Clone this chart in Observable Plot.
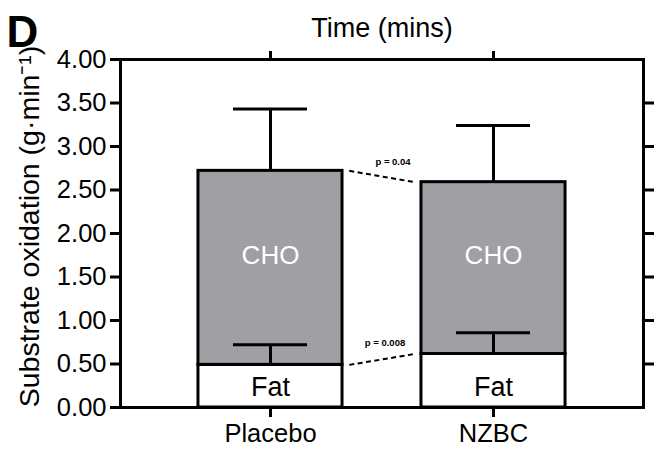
<!DOCTYPE html>
<html>
<head>
<meta charset="utf-8">
<script src="https://cdn.jsdelivr.net/npm/d3@7"></script>
<script src="https://cdn.jsdelivr.net/npm/@observablehq/plot@0.6"></script>
<style>
  html, body { margin: 0; padding: 0; background: white; }
  #chart { width: 654px; height: 450px; }
</style>
</head>
<body>
<div id="chart"></div>
<script>
// ---- data ----
const groups = ["Placebo", "NZBC"];
const fatMean = [0.49, 0.615];
const fatErr = [0.23, 0.245];
const choMean = [2.23, 1.975];
const totalErr = [0.71, 0.65];
const pTotal = "p = 0.04";
const pFat = "p = 0.008";
const yTicks = [0, 0.5, 1, 1.5, 2, 2.5, 3, 3.5, 4];
const yLabel = "Substrate oxidation (g\u00B7min\u207B\u00B9)";
const xTopLabel = "Time (mins)";
const panel = "D";

// ---- tables built from the arrays ----
const data = groups.map((g, i) => ({
  group: g, i,
  fat: fatMean[i],
  fatTop: fatMean[i] + fatErr[i],
  total: fatMean[i] + choMean[i],
  totalTop: fatMean[i] + choMean[i] + totalErr[i]
}));
const links = [
  {from: data[0].total, to: data[1].total, p: pTotal},
  {from: data[0].fat, to: data[1].fat, p: pFat}
];

const HALF = 0.323, CAP = 0.166, GAP = 0.03;
const choMid = d3.mean(data, d => (d.fat + d.total) / 2);
const font = "'Liberation Sans', Arial, Helvetica, sans-serif";

const chart = Plot.plot({
  width: 654,
  height: 450,
  marginLeft: 120,
  marginRight: 11,
  marginTop: 59,
  marginBottom: 43,
  x: {domain: [-0.6726, 1.6726]},
  y: {domain: [0, 4]},
  style: {fontFamily: font, background: "white", color: "black"},
  marks: [
    Plot.rect(data, {x1: d => d.i - HALF, x2: d => d.i + HALF, y1: 0, y2: "fat",
      fill: "white", stroke: "black", strokeWidth: 3}),
    Plot.rect(data, {x1: d => d.i - HALF, x2: d => d.i + HALF, y1: "fat", y2: "total",
      fill: "#a09fa4", stroke: "black", strokeWidth: 3}),
    // error bars
    Plot.ruleX(data, {x: "i", y1: "fat", y2: "fatTop", stroke: "black", strokeWidth: 3}),
    Plot.ruleY(data, {y: "fatTop", x1: d => d.i - CAP, x2: d => d.i + CAP, stroke: "black", strokeWidth: 3}),
    Plot.ruleX(data, {x: "i", y1: "total", y2: "totalTop", stroke: "black", strokeWidth: 3}),
    Plot.ruleY(data, {y: "totalTop", x1: d => d.i - CAP, x2: d => d.i + CAP, stroke: "black", strokeWidth: 3}),
    // bar labels
    Plot.text(data, {x: "i", y: choMid, text: () => "CHO", fill: "white", fontSize: 26, dy: -12}),
    Plot.text(data, {x: "i", y: 0, text: () => "Fat", fill: "black", fontSize: 27, dy: -20}),
    // dashed connectors
    Plot.link(links, {x1: HALF + GAP, x2: 1 - HALF - GAP, y1: "from", y2: "to",
      stroke: "black", strokeWidth: 2, strokeDasharray: "5,3.5"}),
    Plot.text([links[0]], {x: 0.5, y: d => (d.from + d.to) / 2, text: "p", dx: 11, dy: -15,
      fontSize: 9.5, fontWeight: "bold"}),
    Plot.text([links[1]], {x: 0.5, y: d => (d.from + d.to) / 2, text: "p", dx: 3, dy: -16,
      fontSize: 9.5, fontWeight: "bold"}),
    // frame + axes
    Plot.frame({stroke: "black", strokeWidth: 3}),
    Plot.axisY({anchor: "left", ticks: yTicks, tickFormat: d3.format(".2f"), tickSize: 10,
      tickPadding: 4, strokeWidth: 3, fontSize: 25.5, label: null}),
    Plot.axisY({anchor: "right", ticks: yTicks.slice(1, -1), tickFormat: () => "", tickSize: 10,
      strokeWidth: 3, label: null}),
    Plot.axisX({anchor: "bottom", ticks: [0, 1], tickFormat: i => groups[i], tickSize: 10,
      tickPadding: 6, strokeWidth: 3, fontSize: 25.5, label: null}),
    Plot.axisX({anchor: "top", ticks: [0, 1], tickFormat: () => "", tickSize: 9,
      strokeWidth: 3, label: null}),
    // titles
    Plot.text([xTopLabel], {frameAnchor: "top", text: d => d, dy: -42, fontSize: 27}),
    Plot.text([yLabel], {frameAnchor: "left", text: d => d, textAnchor: "middle", rotate: -90,
      dx: -91, dy: -7, fontSize: 28.5}),
    Plot.text([panel], {frameAnchor: "top-left", text: d => d, textAnchor: "middle", dx: -98, dy: -44,
      fontSize: 44, fontWeight: "bold"})
  ]
});
document.getElementById("chart").appendChild(chart);
</script>
</body>
</html>
